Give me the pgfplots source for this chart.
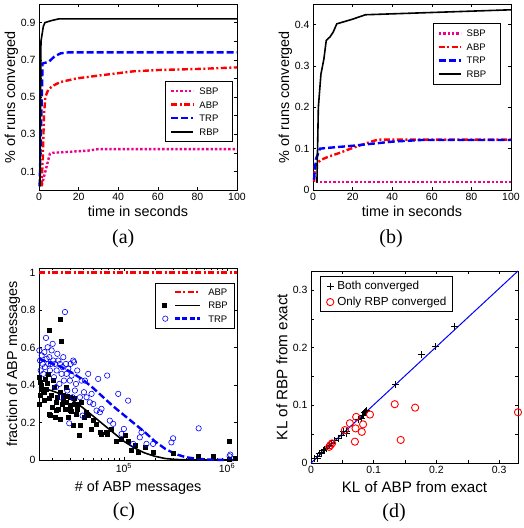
\documentclass[border=0pt]{standalone}
\usepackage{fontspec}
\setmainfont{Liberation Sans}
\newfontfamily\capfont{Liberation Serif}
\usepackage{pgfplots}
\pgfplotsset{compat=1.18}
\pgfplotsset{
  myax/.style={
    scale only axis,
    font=\fontsize{10.5}{12}\selectfont,
    /pgf/number format/assume math mode=true,
    tick align=inside,
    major tick length=3.2pt,
    minor tick length=1.8pt,
    every tick/.append style={black, line width=0.5pt},
    axis line style={line width=0.7pt},
    label style={font=\fontsize{14.4}{17}\selectfont},
    legend cell align=left,
    clip=false,
  },
  sbp/.style={draw=magenta, line width=2.4pt, dash pattern=on 2.4pt off 2pt},
  abp/.style={draw=red, line width=2.4pt, dash pattern=on 6pt off 2.5pt on 2pt off 2.5pt},
  trp/.style={draw=blue, line width=2.4pt, dash pattern=on 7pt off 3pt},
  rbp/.style={draw=black, line width=1.6pt, solid},
}
\begin{document}
\begin{tikzpicture}
\useasboundingbox (0,0) rectangle (524pt,-528pt);

% ---------------- (a)
\begin{axis}[myax, at={(39pt,-4pt)}, anchor=north west, width=198pt, height=186pt,
  xmin=0, xmax=100, ymin=0, ymax=1,
  xtick={0,20,40,60,80,100}, xticklabels={0,20,40,60,80,100},
  ytick={0.1,0.2,0.3,0.4,0.5,0.6,0.7,0.8,0.9}, yticklabels={0.1,,0.3,,0.5,,0.7,,0.9},
  xlabel={time in seconds}, ylabel={\% of runs converged},
  xlabel style={at={(axis description cs:0.5,-0.142)}, anchor=base},
  ylabel style={at={(axis description cs:-0.12,0.5)}, anchor=base},
  legend style={at={(axis description cs:0.978,0.586)}, anchor=north east, draw=black, fill=white,
    font=\fontsize{9.5}{11}\selectfont, inner xsep=3pt, inner ysep=3pt,
    nodes={inner xsep=3pt, inner ysep=3.4pt, text height=6.8pt, text depth=0pt}},
]
\addplot[sbp, forget plot] coordinates {(1.4,0.025) (5.5,0.195) (7,0.2) (15,0.205) (25,0.212) (30,0.22) (100,0.22)};
\addplot[abp, forget plot] coordinates {(1.3,0.02) (2,0.2) (2.5,0.4) (3.2,0.5) (4.7,0.54) (7,0.56) (10.6,0.58) (19,0.6) (30,0.615) (47.6,0.638) (60,0.645) (81,0.651) (100,0.659)};
\addplot[trp, forget plot] coordinates {(0.3,0.02) (1,0.3) (1.8,0.68) (5,0.69) (8,0.72) (11,0.735) (15,0.74) (100,0.74)};
\addplot[rbp, forget plot] coordinates {(0.5,0.02) (0.8,0.5) (1.0,0.8) (2.2,0.88) (3,0.9) (6,0.91) (10,0.92) (100,0.92)};
\addlegendimage{legend image code/.code={\draw[draw=magenta, line width=2.4pt, dash pattern=on 2.4pt off 2pt] (0pt,0pt) -- (22pt,0pt); \path[draw=none,fill=none] (-3pt,0pt) -- (25pt,0pt);}}
\addlegendentry{\makebox[27pt][l]{SBP}}
\addlegendimage{legend image code/.code={\draw[draw=red, line width=2.4pt, dash pattern=on 6pt off 2.5pt on 2pt off 2.5pt] (0pt,0pt) -- (22pt,0pt); \path[draw=none,fill=none] (-3pt,0pt) -- (25pt,0pt);}}
\addlegendentry{\makebox[27pt][l]{ABP}}
\addlegendimage{legend image code/.code={\draw[draw=blue, line width=2.4pt, dash pattern=on 7pt off 3pt] (0pt,0pt) -- (22pt,0pt); \path[draw=none,fill=none] (-3pt,0pt) -- (25pt,0pt);}}
\addlegendentry{\makebox[27pt][l]{TRP}}
\addlegendimage{legend image code/.code={\draw[draw=black, line width=1.6pt, solid] (0pt,0pt) -- (22pt,0pt); \path[draw=none,fill=none] (-3pt,0pt) -- (25pt,0pt);}}
\addlegendentry{\makebox[27pt][l]{RBP}}
\end{axis}

% ---------------- (b)
\begin{axis}[myax, at={(313pt,-4pt)}, anchor=north west, width=198pt, height=186pt,
  xmin=0, xmax=100, ymin=0, ymax=0.45,
  xtick={0,20,40,60,80,100}, xticklabels={0,20,40,60,80,100},
  ytick={0,0.1,0.2,0.3,0.4}, yticklabels={0,0.1,0.2,0.3,0.4},
  xlabel={time in seconds}, ylabel={\% of runs converged},
  xlabel style={at={(axis description cs:0.5,-0.142)}, anchor=base},
  ylabel style={at={(axis description cs:-0.12,0.5)}, anchor=base},
  legend style={at={(axis description cs:0.944,0.896)}, anchor=north east, draw=black, fill=white,
    font=\fontsize{9.5}{11}\selectfont, inner xsep=3pt, inner ysep=3pt,
    nodes={inner xsep=3pt, inner ysep=3.4pt, text height=6.8pt, text depth=0pt}},
]
\addplot[sbp, forget plot] coordinates {(1.3,0.02) (100,0.02)};
\addplot[abp, forget plot] coordinates {(0.5,0.02) (1,0.06) (4,0.073) (8,0.081) (13,0.089) (19,0.1) (25,0.11) (30,0.118) (33,0.122) (100,0.122)};
\addplot[trp, forget plot] coordinates {(0.5,0.025) (1.5,0.075) (3.5,0.1) (10,0.103) (20,0.107) (26,0.11) (40,0.117) (55,0.121) (100,0.121)};
\addplot[rbp, forget plot] coordinates {(1.5,0.02) (2,0.02) (2.7,0.2) (4,0.28) (5.5,0.317) (6.7,0.362) (8.5,0.37) (10.2,0.382) (12,0.402) (19.8,0.413) (26.5,0.424) (100,0.436)};
\addlegendimage{legend image code/.code={\draw[draw=magenta, line width=2.4pt, dash pattern=on 2.4pt off 2pt] (0pt,0pt) -- (22pt,0pt); \path[draw=none,fill=none] (-3pt,0pt) -- (25pt,0pt);}}
\addlegendentry{\makebox[27pt][l]{SBP}}
\addlegendimage{legend image code/.code={\draw[draw=red, line width=2.4pt, dash pattern=on 6pt off 2.5pt on 2pt off 2.5pt] (0pt,0pt) -- (22pt,0pt); \path[draw=none,fill=none] (-3pt,0pt) -- (25pt,0pt);}}
\addlegendentry{\makebox[27pt][l]{ABP}}
\addlegendimage{legend image code/.code={\draw[draw=blue, line width=2.4pt, dash pattern=on 7pt off 3pt] (0pt,0pt) -- (22pt,0pt); \path[draw=none,fill=none] (-3pt,0pt) -- (25pt,0pt);}}
\addlegendentry{\makebox[27pt][l]{TRP}}
\addlegendimage{legend image code/.code={\draw[draw=black, line width=1.6pt, solid] (0pt,0pt) -- (22pt,0pt); \path[draw=none,fill=none] (-3pt,0pt) -- (25pt,0pt);}}
\addlegendentry{\makebox[27pt][l]{RBP}}
\end{axis}

% ---------------- (c)
\begin{axis}[myax, xmode=log, at={(39pt,-268pt)}, anchor=north west, width=198pt, height=192pt,
  xmin=15030, xmax=1.25e6, ymin=0, ymax=1.025,
  xtick={1e5,1e6}, xticklabels={10\textsuperscript{5},10\textsuperscript{6}},
  minor xtick={20000,30000,40000,50000,60000,70000,80000,90000,200000,300000,400000,500000,600000,700000,800000,900000},
  ytick={0,0.2,0.4,0.6,0.8,1}, yticklabels={0,0.2,0.4,0.6,0.8,1},
  xlabel={\# of ABP messages}, ylabel={fraction of ABP messages},
  xlabel style={at={(axis description cs:0.5,-0.165)}, anchor=base},
  ylabel style={at={(axis description cs:-0.111,0.5)}, anchor=base},
  legend style={at={(axis description cs:0.985,0.922)}, anchor=north east, draw=black, fill=white,
    font=\fontsize{9.5}{11}\selectfont, inner xsep=3pt, inner ysep=2.5pt,
    nodes={inner xsep=3pt, inner ysep=3.2pt, text height=6.8pt, text depth=0pt}},
]
\addplot[abp, forget plot] coordinates {(15030,1) (1.25e6,1)};
\addplot[only marks, mark=square*, mark size=2pt, black, forget plot] coordinates {
(15030,0.299) (15140,0.442) (15380,0.415) (15600,0.344) (15960,0.398) (16560,0.362) (16940,0.317) (17440,0.433)
(17830,0.380) (18490,0.460) (18910,0.246) (18910,0.695) (19480,0.237) (19930,0.344) (20380,0.282) (20690,0.424)
(21480,0.228) (22280,0.264) (22620,0.335) (23130,0.273) (23990,0.750) (24370,0.219) (24890,0.633) (25450,0.299)
(25850,0.344) (26840,0.273) (27420,0.389) (27840,0.308) (28890,0.228) (29970,0.264) (30410,0.335) (32290,0.184)
(32790,0.299) (34280,0.246) (36900,0.135) (37470,0.184) (38900,0.308) (40980,0.228) (42850,0.255) (45080,0.237)
(48600,0.166) (50470,0.210) (54330,0.193) (58480,0.148) (60670,0.139) (66830,0.148) (68870,0.139) (75840,0.166)
(84850,0.103) (94900,0.112) (102200,0.130) (110000,0.103) (118600,0.050) (127700,0.077) (137500,0.041) (159600,0.068)
(192000,0.041) (300000,0.036) (531000,0.020) (731000,0.018) (1060000,0.100) (1060000,0.005) (1203000,0.011)
(16000,0.38) (17000,0.36) (18000,0.41) (19000,0.33) (21000,0.39) (22000,0.31) (24000,0.36) (26000,0.32)
(28000,0.34) (30000,0.29) (31000,0.26) (33000,0.33) (35000,0.27) (36000,0.30)};
\addplot[rbp, forget plot] coordinates {(15030,0.39) (19953,0.37) (25119,0.35) (31623,0.32) (39811,0.28) (50119,0.235)
(63096,0.19) (79433,0.145) (100000,0.10) (125893,0.065) (158489,0.038) (199526,0.02) (251189,0.008) (316228,0.003)
(398107,0.001) (1.25e6,0)};
\addplot[only marks, mark=o, mark size=2.7pt, blue, mark options={line width=0.6pt}, forget plot] coordinates {
(15140,0.585) (15380,0.531) (15600,0.478) (15960,0.558) (16310,0.513) (16560,0.460) (16940,0.576) (17180,0.496)
(17570,0.652) (17830,0.540) (18240,0.602) (18490,0.513) (18910,0.549) (19190,0.478) (19620,0.513) (19930,0.585)
(20380,0.620) (20690,0.531) (21000,0.442) (21480,0.513) (21960,0.389) (22280,0.478) (22620,0.567) (23130,0.531)
(23660,0.406) (23990,0.513) (24370,0.335) (24890,0.460) (25450,0.496) (25850,0.549) (26240,0.424) (26840,0.790)
(27420,0.513) (27840,0.460) (28250,0.371) (28890,0.487) (29540,0.196) (29970,0.424) (30410,0.513) (31110,0.451)
(31820,0.335) (32290,0.531) (32790,0.522) (33520,0.371) (34280,0.406) (35300,0.478) (37470,0.335) (38900,0.424)
(39780,0.237) (40980,0.362) (41880,0.424) (43470,0.335) (45080,0.460) (46750,0.308) (48600,0.353) (50470,0.299)
(54330,0.264) (56340,0.433) (58480,0.255) (60670,0.273) (68870,0.451) (73050,0.210) (78730,0.193) (88130,0.353)
(94900,0.139) (100000,0.166) (110000,0.317) (123000,0.086) (142700,0.121) (148200,0.148) (165600,0.086) (192000,0.086)
(288900,0.094) (300000,0.116) (531000,0.169) (1060000,0.020) (1076000,0.029)};
\addplot[trp, forget plot] coordinates {(15030,0.54) (19953,0.515) (25119,0.495) (31623,0.465) (39811,0.43) (50119,0.385)
(63096,0.335) (79433,0.285) (100000,0.24) (125893,0.195) (158489,0.15) (199526,0.10) (251189,0.06) (316228,0.032)
(398107,0.015) (501187,0.007) (630957,0.003) (794328,0.001) (1.25e6,0)};
\addlegendimage{legend image code/.code={\draw[draw=red, line width=2.4pt, dash pattern=on 6pt off 2.5pt on 2pt off 2.5pt] (10.5pt,0pt) -- (36pt,0pt); \path[draw=none,fill=none] (-6.5pt,0pt) -- (41pt,0pt);}}
\addlegendentry{ABP}
\addlegendimage{legend image code/.code={\fill[fill=black,draw=none] (-2.2pt,-2.2pt) rectangle (2.2pt,2.2pt); \draw[draw=black,line width=1.6pt,solid] (10.5pt,0pt) -- (36pt,0pt); \path[draw=none,fill=none] (-6.5pt,0pt) -- (41pt,0pt);}}
\addlegendentry{RBP}
\addlegendimage{legend image code/.code={\draw[draw=blue,fill=none,line width=0.6pt,solid] (1pt,0pt) circle (2.7pt); \draw[draw=blue,line width=2.4pt,dash pattern=on 5pt off 2.5pt] (10.5pt,0pt) -- (36pt,0pt); \path[draw=none,fill=none] (-6.5pt,0pt) -- (41pt,0pt);}}
\addlegendentry{TRP}
\end{axis}

% ---------------- (d)
\begin{axis}[myax, at={(311pt,-271pt)}, anchor=north west, width=207pt, height=192pt,
  xmin=0, xmax=0.33, ymin=0, ymax=0.333,
  xtick={0,0.05,0.1,0.15,0.2,0.25,0.3}, xticklabels={0,,0.1,,0.2,,0.3},
  ytick={0,0.05,0.1,0.15,0.2,0.25,0.3}, yticklabels={0,,0.1,,0.2,,0.3},
  xlabel={KL of ABP from exact}, ylabel={KL of RBP from exact},
  label style={font=\fontsize{15.2}{18}\selectfont},
  xlabel style={at={(axis description cs:0.5,-0.153)}, anchor=base},
  ylabel style={at={(axis description cs:-0.1145,0.5)}, anchor=base},
  legend style={at={(axis description cs:0.045,0.972)}, anchor=north west, draw=black, fill=white,
    font=\fontsize{11.7}{14}\selectfont, inner xsep=3pt, inner ysep=1.5pt,
    nodes={inner xsep=3pt, inner ysep=2.6pt, text height=8.4pt, text depth=2.4pt}},
]
\addplot[only marks, mark=+, mark size=3.5pt, black, mark options={line width=1pt}, forget plot] coordinates {
(0.229,0.237) (0.199,0.202) (0.1755,0.188) (0.135,0.136) (0.089,0.091) (0.085,0.087) (0.082,0.083) (0.080,0.078)
(0.057,0.051) (0.052,0.054) (0.049,0.048) (0.038,0.039) (0.030,0.031) (0.025,0.025) (0.020,0.022) (0.014,0.016)
(0.011,0.0115) (0.006,0.0075) (0.017,0.019) (0.022,0.023) (0.033,0.034) (0.044,0.043) (0.076,0.076) (0.087,0.089)
(0.084,0.082) (0.056,0.054) (0.016,0.017) (0.010,0.008)};
\addplot[only marks, mark=o, mark size=3.6pt, red, mark options={line width=0.9pt}, forget plot] coordinates {
(0.330,0.088) (0.166,0.096) (0.1335,0.102) (0.143,0.040) (0.094,0.084) (0.083,0.067) (0.081,0.054) (0.072,0.080)
(0.071,0.060) (0.070,0.037) (0.062,0.069) (0.054,0.057) (0.0335,0.034) (0.031,0.031) (0.029,0.028)};
\addplot[draw=blue, line width=1pt, forget plot] coordinates {(0,0) (0.33,0.333)};
\addlegendimage{legend image code/.code={\draw[draw=black, line width=1pt, solid] (-3.5pt,0pt) -- (3.5pt,0pt) (0pt,-3.5pt) -- (0pt,3.5pt); \path[draw=none,fill=none] (-6.7pt,0pt) -- (4pt,0pt);}}
\addlegendentry{Both converged}
\addlegendimage{legend image code/.code={\draw[draw=red, fill=none, line width=0.9pt, solid] (0pt,0pt) circle (3.6pt); \path[draw=none,fill=none] (-6.7pt,0pt) -- (4pt,0pt);}}
\addlegendentry{Only RBP converged}
\end{axis}

\node[font=\capfont\fontsize{20}{24}\selectfont] at (123.3pt,-239pt) {(a)};
\node[font=\capfont\fontsize{20}{24}\selectfont] at (391pt,-239pt) {(b)};
\node[font=\capfont\fontsize{20}{24}\selectfont] at (124pt,-511.5pt) {(c)};
\node[font=\capfont\fontsize{20}{24}\selectfont] at (394pt,-512.5pt) {(d)};
\end{tikzpicture}
\end{document}
